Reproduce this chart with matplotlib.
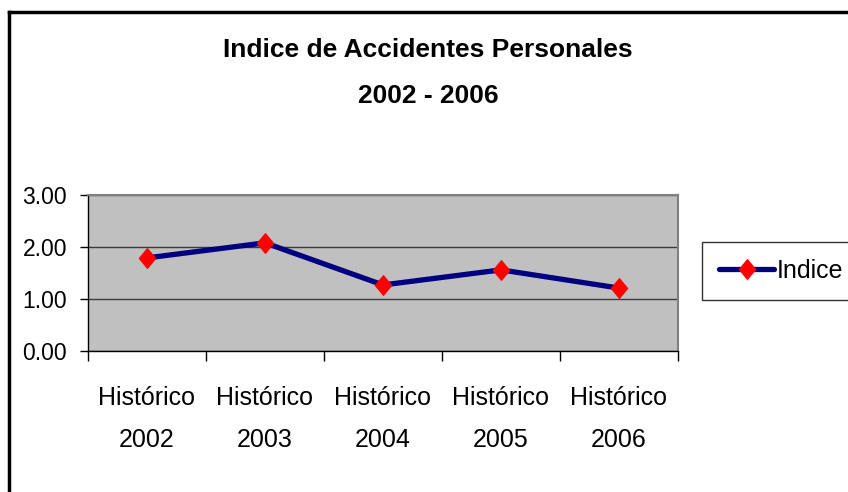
import matplotlib
matplotlib.use('Agg')
import matplotlib.pyplot as plt
from matplotlib.lines import Line2D
from matplotlib.path import Path

# Datos del grafico
categorias = ['Histórico\n2002', 'Histórico\n2003', 'Histórico\n2004',
              'Histórico\n2005', 'Histórico\n2006']
indice = [1.79, 2.08, 1.27, 1.56, 1.21]
y_ticks = [0.0, 1.0, 2.0, 3.0]
titulo = 'Indice de Accidentes Personales\n2002 - 2006'
serie = 'Indice'

plt.rcParams['font.family'] = ['Liberation Sans', 'DejaVu Sans']

fig = plt.figure(figsize=(8.48, 4.92), dpi=100)
ax = fig.add_axes([88 / 848, 1 - 351 / 492, 590 / 848, 156 / 492])

# Rombo alto al estilo Excel
rombo = Path([(0, 1), (0.83, 0), (0, -1), (-0.83, 0), (0, 1)],
             [Path.MOVETO, Path.LINETO, Path.LINETO, Path.LINETO, Path.CLOSEPOLY])

x = list(range(len(categorias)))
ax.plot(x, indice, color='#000080', linewidth=3.8, solid_capstyle='round',
        marker=rombo, markersize=14, markerfacecolor='#FF0000',
        markeredgecolor='#FF0000', label=serie, zorder=3)

ax.set_facecolor('#C0C0C0')
ax.set_xlim(-0.5, len(categorias) - 0.5)
ax.set_ylim(0, 3)
ax.set_yticks(y_ticks)
ax.set_yticklabels([f'{v:.2f}' for v in y_ticks], fontsize=16.5)
ax.set_xticks(x)
ax.set_xticklabels(categorias, fontsize=18, linespacing=1.97)
ax.set_xticks([i - 0.5 for i in range(len(categorias) + 1)], minor=True)
ax.tick_params(axis='x', which='major', length=0, pad=25)
ax.tick_params(axis='x', which='minor', length=7, width=1, direction='out')
ax.tick_params(axis='y', length=6, width=1, pad=9)

ax.grid(axis='y', color='#3a3a3a', linewidth=1)
ax.set_axisbelow(True)
for s in ['top', 'right']:
    ax.spines[s].set_color('#808080')
    ax.spines[s].set_linewidth(1.5)
for s in ['left', 'bottom']:
    ax.spines[s].set_color('#000000')
    ax.spines[s].set_linewidth(1)

fig.text(428 / 848, 1 - 73 / 492, titulo, ha='center', va='center',
         fontsize=19, fontweight='bold', linespacing=2.2)

leg = ax.legend(loc='center left', bbox_to_anchor=(702 / 848, 1 - 271 / 492),
                bbox_transform=fig.transFigure, fontsize=18, frameon=True,
                fancybox=False, handlelength=2.2, handletextpad=0.1,
                borderpad=0.68, borderaxespad=0)
leg.get_frame().set_edgecolor('#000000')
leg.get_frame().set_linewidth(1)

# Borde exterior del grafico
fig.add_artist(Line2D([9 / 848, 9 / 848], [0, 1 - 12 / 492], color='black', linewidth=2.5))
fig.add_artist(Line2D([9 / 848, 1], [1 - 12 / 492, 1 - 12 / 492], color='black', linewidth=2.5))

fig.savefig('out.png', dpi=100)
